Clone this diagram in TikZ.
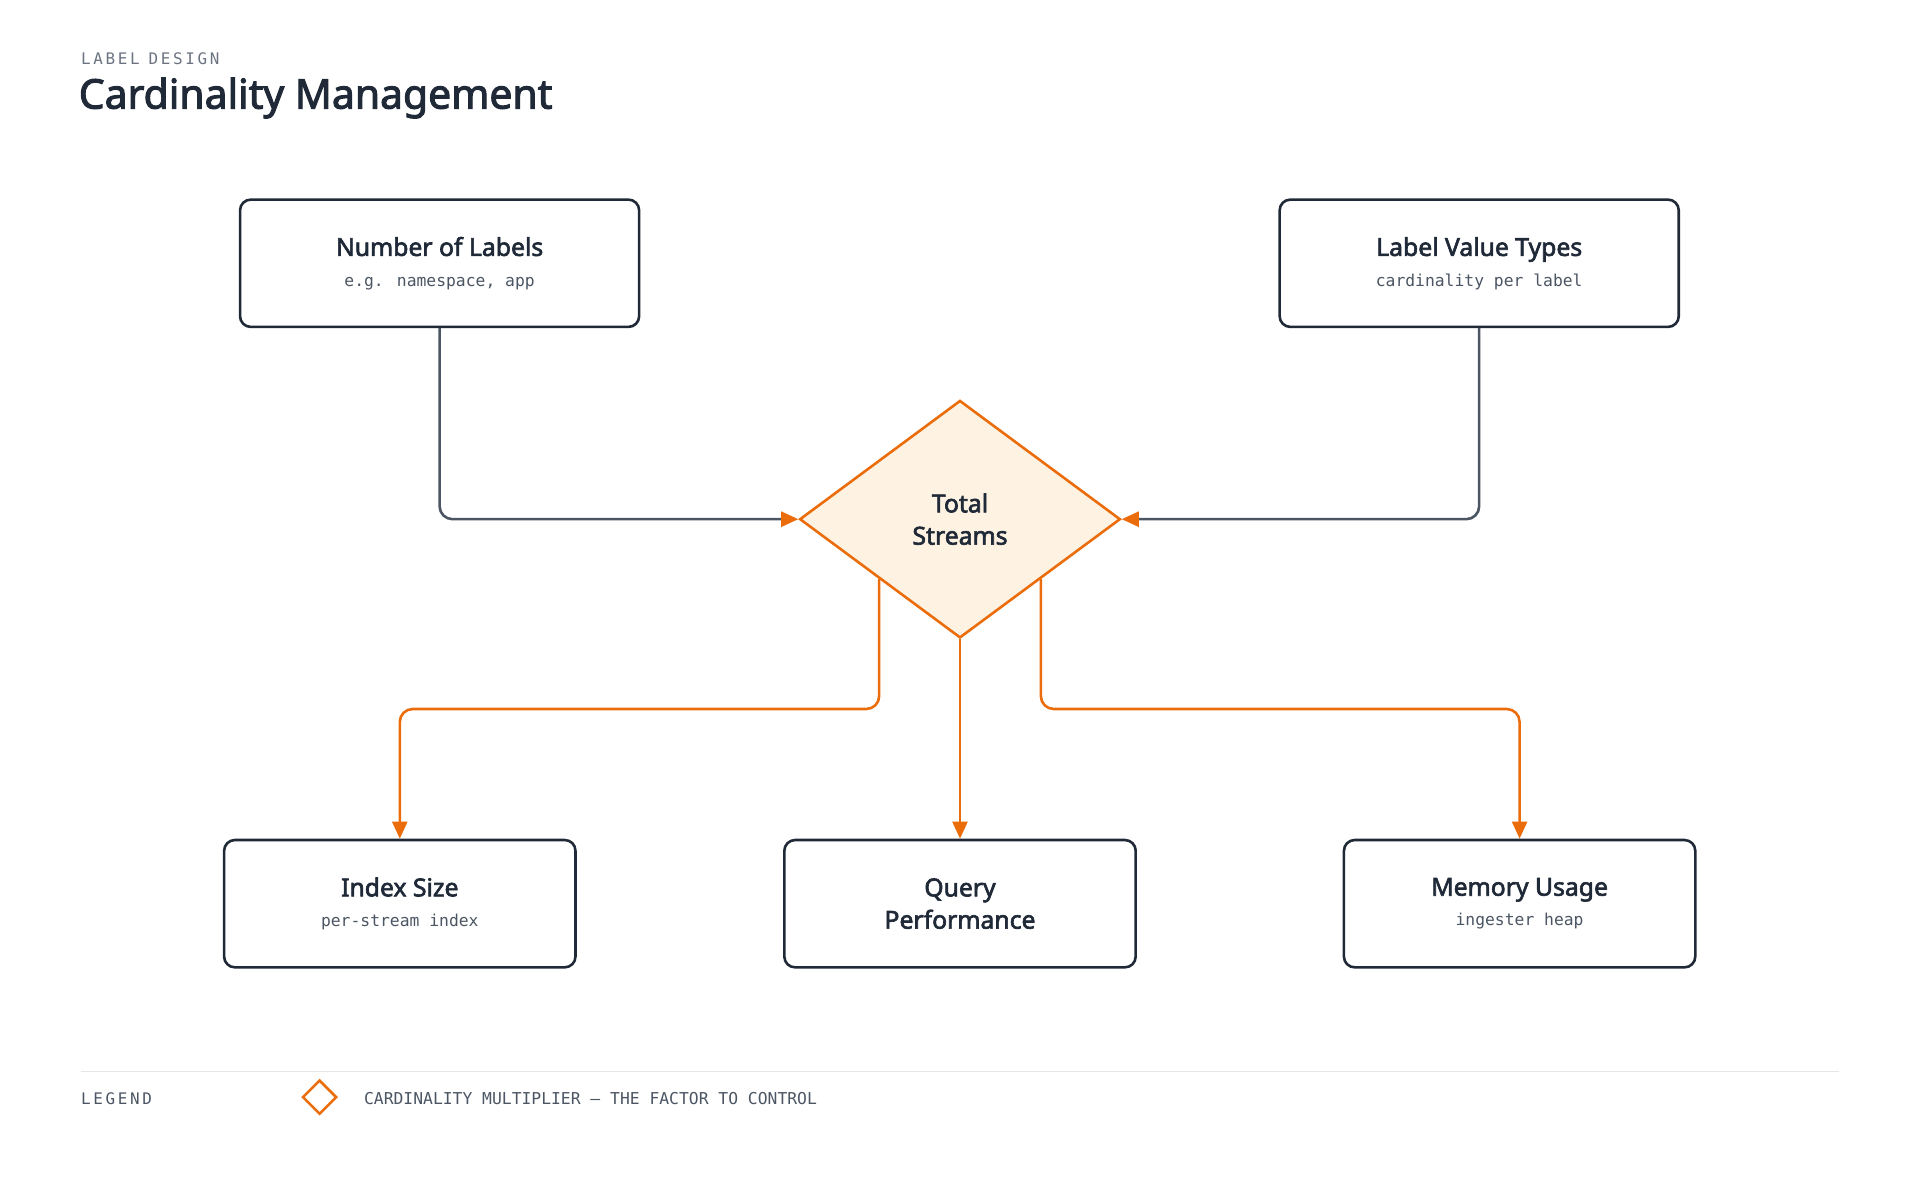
\documentclass[tikz,border=0pt]{standalone}
\usepackage{fontspec}
\setmainfont{Noto Sans}[AutoFakeBold=2.5]
\newfontfamily\monof{DejaVu Sans Mono}
\usetikzlibrary{shapes.geometric,arrows.meta}
\definecolor{navy}{HTML}{1F2937}
\definecolor{slate}{HTML}{4B5563}
\definecolor{mut}{HTML}{6B7280}
\definecolor{orng}{HTML}{EA6C0A}
\definecolor{cream}{HTML}{FEF3E2}
\definecolor{rule}{HTML}{E5E7EB}
\newcommand\boxttl{\fontsize{11.5}{15}\selectfont\bfseries}
\newcommand\boxsub{\monof\fontsize{7.6}{9}\selectfont\color{slate}}
\tikzset{
  box/.style={draw=navy, line width=1.2pt, fill=white, rounded corners=5pt,
    minimum width=6.52cm, minimum height=2.08cm, align=center, text=navy},
  wide/.style={box, minimum width=5.74cm},
  link/.style={draw=slate, line width=1.2pt, rounded corners=6pt},
  olink/.style={draw=orng, line width=1.2pt, rounded corners=6pt},
  tip/.style={-{Triangle[width=7pt,length=8pt,color=orng]}}
}
\begin{document}
\begin{tikzpicture}[x=0.02cm,y=-0.02cm]
  \useasboundingbox (0,0) rectangle (1568,980);
  %%%%%%%%%%%%% header %%%%%%%%%%%%%
  \node[anchor=west, inner sep=0, text=mut, font=\monof\fontsize{7.4}{9}\selectfont] (kick) at (66,48) {L\,A\,B\,E\,L\;\;D\,E\,S\,I\,G\,N};
  \node[anchor=west, inner sep=0, text=navy, font=\fontsize{19}{23}\selectfont\bfseries] (head) at (64,80) {Cardinality Management};

  %%%%%%%%%%%%% inputs %%%%%%%%%%%%%
  \node[box] (nlab) at (359,215) {{\boxttl Number of Labels}\\[2pt]{\boxsub e.g. namespace, app}};
  \node[box] (vtyp) at (1208,215) {{\boxttl Label Value Types}\\[2pt]{\boxsub cardinality per label}};

  %%%%%%%%%%%%% multiplier %%%%%%%%%%%%%
  \node[diamond, draw=orng, fill=cream, line width=1.2pt, inner sep=0,
    minimum width=5.24cm, minimum height=3.88cm, aspect=1.35, align=center,
    text=navy, font=\boxttl] (tot) at (784,424) {Total\\Streams};

  %%%%%%%%%%%%% outputs %%%%%%%%%%%%%
  \node[wide] (idx) at (326.5,738) {{\boxttl Index Size}\\[2pt]{\boxsub per-stream index}};
  \node[wide, font=\boxttl] (qry) at (784,738) {Query\\Performance};
  \node[wide] (mem) at (1241,738) {{\boxttl Memory Usage}\\[2pt]{\boxsub ingester heap}};

  %%%%%%%%%%%%% connectors %%%%%%%%%%%%%
  \draw[link,tip] (nlab.south) |- (tot.west);
  \draw[link,tip] (vtyp.south) |- (tot.east);
  \draw[olink,tip] (tot.south west) -- ++(0,106) -| (idx.north);
  \draw[olink,tip] (tot.south) -- (qry.north);
  \draw[olink,tip] (tot.south east) -- ++(0,106) -| (mem.north);

  %%%%%%%%%%%%% legend %%%%%%%%%%%%%
  \draw[rule, line width=0.8pt] (66,875) -- (1502,875);
  \node[anchor=west, inner sep=0, text=slate, font=\monof\fontsize{7.4}{9}\selectfont] (leg) at (66,897) {L\,E\,G\,E\,N\,D};
  \node[diamond, draw=orng, line width=1.2pt, inner sep=0, minimum size=0.56cm] (ldia) at (261,896) {};
  \node[anchor=west, inner sep=0, text=slate, font=\monof\fontsize{7.6}{9}\selectfont] (ltxt) at (297,897) {CARDINALITY MULTIPLIER — THE FACTOR TO CONTROL};
\end{tikzpicture}
\end{document}
